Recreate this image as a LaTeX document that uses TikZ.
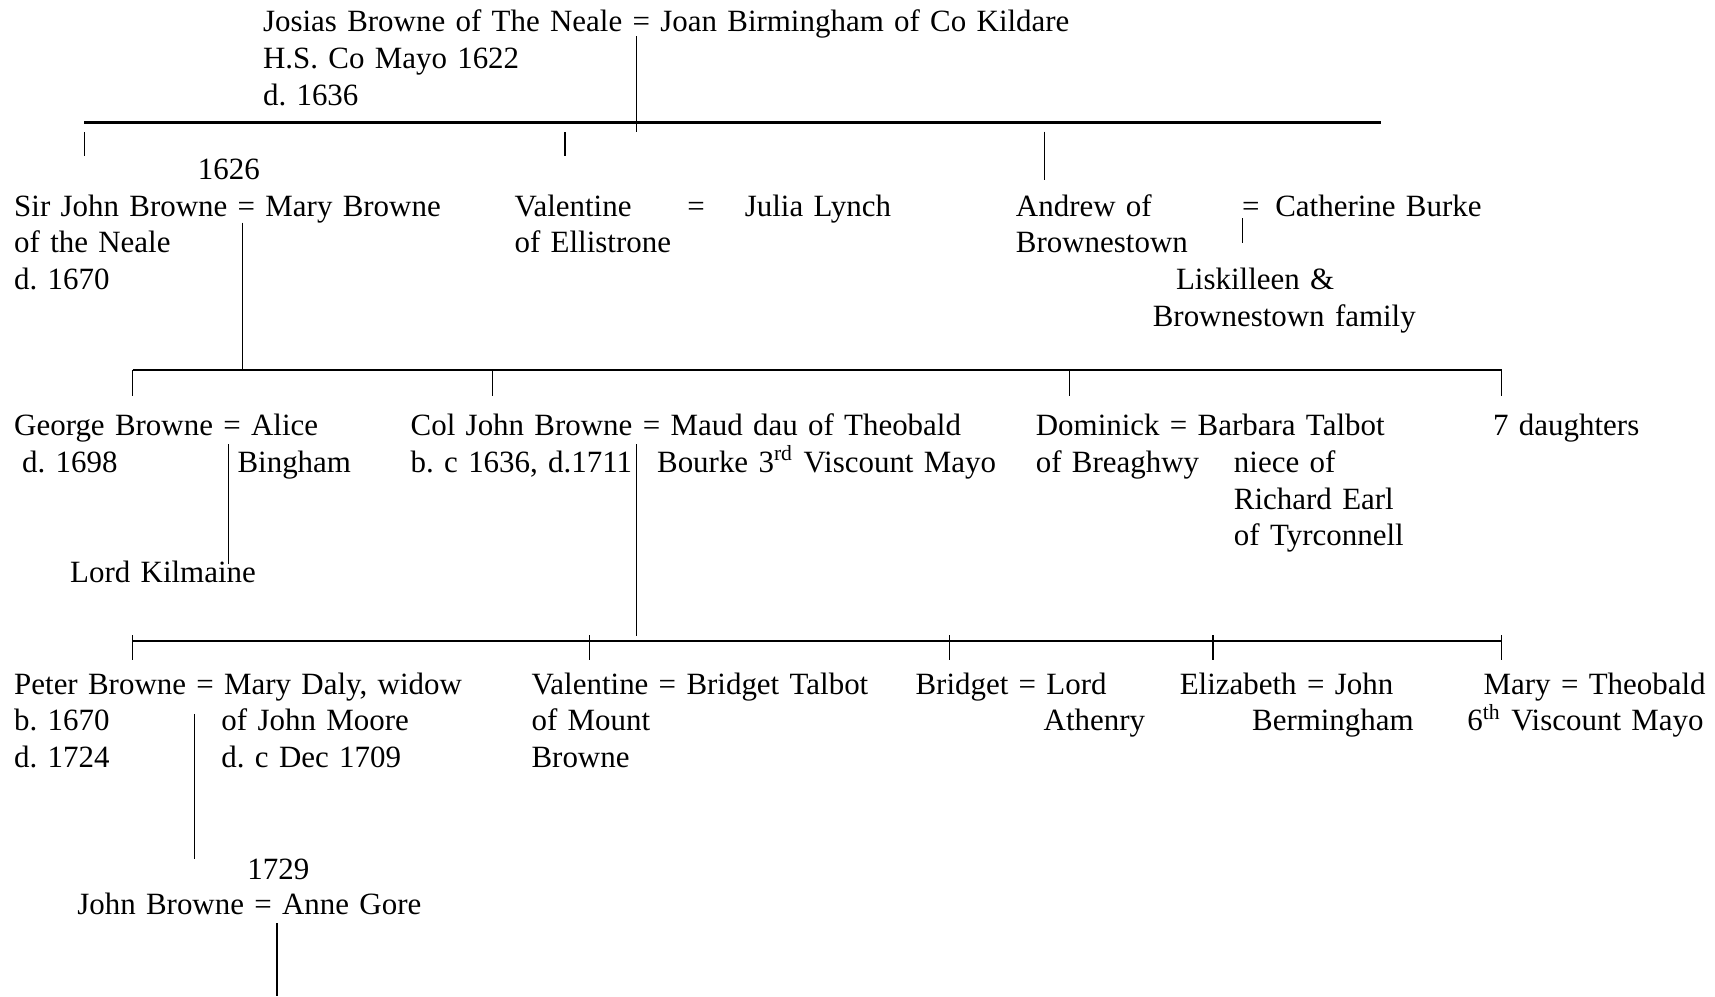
\documentclass[tikz,border=0pt]{standalone}
\usepackage{fontspec}
\setmainfont{Liberation Serif}
\usepackage{tikz}
\usetikzlibrary{positioning}
\frenchspacing
\tikzstyle{person} = [anchor=base west, inner sep=0pt, text width=12cm, align=left, font=\fontsize{11.6}{13.75}\selectfont]
\tikzstyle{bar} = [line width=0.8pt]
\tikzstyle{drop} = [line width=0.45pt]
\begin{document}
\begin{tikzpicture}[x=0.41pt, y=-0.41pt]
                        \useasboundingbox (0,0) rectangle (1568,911);
                        % generation 1
                        \node[person] (josias) at (240,29) {Josias Browne of The Neale = Joan Birmingham of Co Kildare\\H.S. Co Mayo 1622\\d. 1636};
                        \coordinate (josiaseq) at (582,33);
                        \coordinate (josiasend) at (582,121);
                        \coordinate (bar1w) at (77,112);
                        \coordinate (bar1e) at (1263,112);
                        \draw[drop] (josiaseq) -- (josiasend);
                        \draw[bar] (bar1w) -- (bar1e);
                        \coordinate (t1a) at (77,121);   \coordinate (t1b) at (77,142.6);
                        \coordinate (t2a) at (516.5,121); \coordinate (t2b) at (516.5,142.6);
                        \coordinate (t3a) at (955,120.4); \coordinate (t3b) at (955,164.6);
                        \draw[drop] (t1a) -- (t1b);
                        \draw[drop] (t2a) -- (t2b);
                        \draw[drop] (t3a) -- (t3b);
                        % generation 2
                        \node[person] (yr1626) at (180.5,163.7) {1626};
                        \node[person] (sirjohn) at (12.5,197.5) {Sir John Browne = Mary Browne\\of the Neale\\d. 1670};
                        \node[person] (valentine) at (470,197.5) {Valentine\\of Ellistrone};
                        \node[person] (valeq) at (628,197.5) {=};
                        \node[person] (julia) at (680.5,197.5) {Julia Lynch};
                        \node[person] (andrew) at (928.4,197.5) {Andrew of\\Brownestown};
                        \node[person] (andeq) at (1135.2,197.5) {=};
                        \node[person] (catherine) at (1165.5,197.5) {Catherine Burke};
                        \node[person] (liskilleen) at (1053.5,264.6) {\hspace*{8.7pt}Liskilleen \&\\Brownestown family};
                        \coordinate (andrewline) at (1136.2,199.6);
                        \coordinate (andrewend) at (1136.2,222);
                        \draw[drop] (andrewline) -- (andrewend);
                        \coordinate (sirjohneq) at (222,203.6);
                        \coordinate (bar2w) at (121.3,338.3);
                        \coordinate (bar2e) at (1372.8,338.3);
                        \draw[drop] (sirjohneq) -- (sirjohneq |- bar2w);
                        \draw[bar] (bar2w) -- (bar2e);
                        \foreach \tx in {121.3,450.4,977.9,1372.8}
                            \draw[drop] (\tx,338.3) -- (\tx,362);
                        % generation 3
                        \node[person] (george) at (12.5,398.6) {George Browne = Alice\\\hspace*{3pt}d. 1698};
                        \node[person] (bingham) at (216.7,432) {Bingham};
                        \node[person] (kilmaine) at (63.7,532.7) {Lord Kilmaine};
                        \coordinate (georgeeq) at (209,406);
                        \coordinate (georgeend) at (209,515.6);
                        \draw[drop] (georgeeq) -- (georgeend);
                        \node[person] (coljohn) at (375,398.6) {Col John Browne = Maud dau of Theobald\\b. c 1636, d.1711};
                        \node[person] (bourke) at (600.3,432) {Bourke 3\textsuperscript{rd} Viscount Mayo};
                        \node[person] (dominick) at (946.6,398.6) {Dominick = Barbara Talbot\\of Breaghwy};
                        \node[person] (niece) at (1127.7,432) {niece of\\Richard Earl\\of Tyrconnell};
                        \node[person] (daughters) at (1364.7,398.6) {7 daughters};
                        \coordinate (coljohneq) at (582,406);
                        \coordinate (coljohnend) at (582,581.5);
                        \draw[drop] (coljohneq) -- (coljohnend);
                        \coordinate (bar3w) at (121.3,586);
                        \coordinate (bar3e) at (1372.8,586);
                        \draw[bar] (bar3w) -- (bar3e);
                        \foreach \tx in {121.3,538.6,867.9,1109,1372.8}
                            \draw[drop] (\tx,580.6) -- (\tx,603.5);
                        % generation 4
                        \node[person] (peter) at (12.5,634.5) {Peter Browne = Mary Daly, widow\\b. 1670\\d. 1724};
                        \node[person] (marydaly) at (202,668) {of John Moore\\d. c Dec 1709};
                        \node[person] (valentine2) at (485.5,634.5) {Valentine = Bridget Talbot\\of Mount\\Browne};
                        \node[person] (bridget) at (836.6,634.5) {Bridget = Lord};
                        \node[person] (athenry) at (953.7,668) {Athenry};
                        \node[person] (elizabeth) at (1078.2,634.5) {Elizabeth = John};
                        \node[person] (bermingham) at (1144.3,668) {Bermingham};
                        \node[person] (mary) at (1356,634.5) {Mary = Theobald};
                        \node[person] (viscount) at (1341,668) {6\textsuperscript{th} Viscount Mayo};
                        \coordinate (petereq) at (178,652.7);
                        \coordinate (peterend) at (178,785);
                        \draw[drop] (petereq) -- (peterend);
                        % generation 5
                        \node[person] (yr1729) at (225.7,803.7) {1729};
                        \node[person] (johnb) at (70.2,836.5) {John Browne = Anne Gore};
                        \coordinate (johneq) at (253.2,844);
                        \coordinate (johnend) at (253.2,911);
                        \draw[drop] (johneq) -- (johnend);
                    \end{tikzpicture}
\end{document}
